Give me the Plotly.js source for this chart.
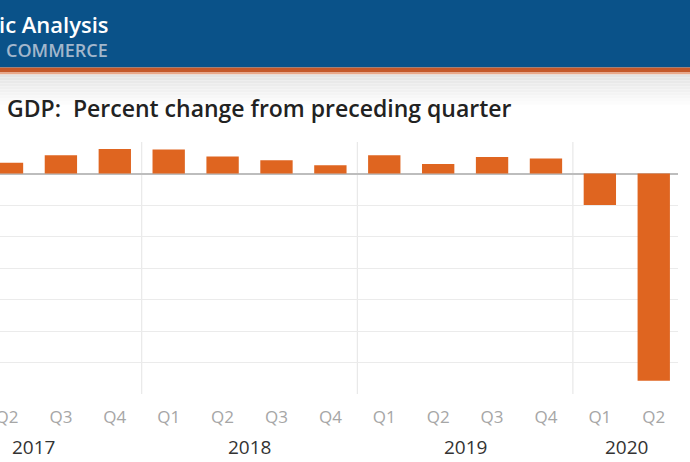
<!DOCTYPE html>
<html>
<head>
<meta charset="utf-8">
<script src="https://cdn.plot.ly/plotly-3.0.1.min.js"></script>
<style>html,body{margin:0;padding:0;background:#fff;overflow:hidden}#chart{width:690px;height:462px}</style>
</head>
<body>
<div id="chart"></div>
<script>
// Data (percent change from preceding quarter, annual rate)
const quarterLabels = ['Q1','Q2','Q3','Q4','Q1','Q2','Q3','Q4','Q1','Q2','Q3','Q4','Q1','Q2'];
const yearLabels = ['2017','2018','2019','2020'];
const quartersPerYear = [4, 4, 4, 2];
const gdpChange = [2.3, 1.7, 2.9, 3.9, 3.8, 2.7, 2.1, 1.3, 2.9, 1.5, 2.6, 2.4, -5.0, -32.9];
const titleText = 'GDP:  Percent change from preceding quarter';
const headerLine1 = 'ic Analysis';
const headerLine2 = 'COMMERCE';

const W = 690, H = 462;
const M = {l: 0, r: 12, t: 142, b: 68};
const plotH = H - M.t - M.b;
const plotW = W - M.l - M.r;
const py = p => (H - M.b - p) / plotH;   // page pixel y -> paper y
const px = p => (p - M.l) / plotW;       // page pixel x -> paper x

const xIdx = quarterLabels.map((_, i) => i);

// year group centres and dividers
const yearAnn = [];
const dividers = [];
let start = 0;
yearLabels.forEach((y, k) => {
  const n = quartersPerYear[k];
  yearAnn.push({
    xref: 'x', yref: 'paper', x: start + (n - 1) / 2, y: py(447),
    text: y, showarrow: false, xanchor: 'center', yanchor: 'middle',
    font: {family: 'Open Sans, sans-serif', size: 19, color: '#333333'}
  });
  if (k > 0) {
    dividers.push({type: 'line', xref: 'x', yref: 'y', x0: start - 0.5, x1: start - 0.5,
      y0: -35, y1: 5, line: {color: '#e4e4e4', width: 1}, layer: 'below'});
  }
  start += n;
});

const shapes = [
  {type: 'rect', xref: 'paper', yref: 'paper', x0: px(-5), x1: px(700), y0: py(67.5), y1: py(-5),
    fillcolor: '#0a5289', line: {width: 0}, layer: 'below'},
  {type: 'rect', xref: 'paper', yref: 'paper', x0: px(-5), x1: px(700), y0: py(72.5), y1: py(67.5),
    fillcolor: '#c4582a', line: {width: 0}, layer: 'below'},
  {type: 'rect', xref: 'paper', yref: 'paper', x0: px(-5), x1: px(700), y0: py(74.5), y1: py(72.5),
    fillcolor: '#e9a889', line: {width: 0}, layer: 'below'}
];
// soft grey fade below the orange stripe
const fade = ['#e3e3e3','#e6e6e6','#e9e9e9','#ececec','#efefef','#f1f1f1','#f4f4f4','#f7f7f7','#fafafa','#fcfcfc'];
fade.forEach((c, i) => {
  shapes.push({type: 'rect', xref: 'paper', yref: 'paper', x0: px(-5), x1: px(700),
    y0: py(74.5 + (i + 1) * 3), y1: py(74.5 + i * 3), fillcolor: c, line: {width: 0}, layer: 'below'});
});

const annotations = [
  {xref: 'paper', yref: 'paper', x: px(-2), y: py(24), xanchor: 'left', yanchor: 'middle',
    text: headerLine1, showarrow: false, borderpad: 0,
    font: {family: 'Open Sans, sans-serif', size: 22, color: '#ffffff', weight: 600}},
  {xref: 'paper', yref: 'paper', x: px(5), y: py(50), xanchor: 'left', yanchor: 'middle',
    text: headerLine2, showarrow: false, borderpad: 0,
    font: {family: 'Open Sans, sans-serif', size: 18, color: '#a3b7cc', weight: 600}},
  {xref: 'paper', yref: 'paper', x: px(5), y: py(108), xanchor: 'left', yanchor: 'middle',
    text: titleText, showarrow: false,
    font: {family: 'Open Sans, sans-serif', size: 23, color: '#222222', weight: 600}}
].concat(yearAnn);

const trace = {
  type: 'bar', x: xIdx, y: gdpChange,
  marker: {color: '#df6520', line: {width: 0}},
  hoverinfo: 'skip'
};

const layout = {
  width: W, height: H,
  margin: M,
  paper_bgcolor: '#ffffff', plot_bgcolor: '#ffffff',
  showlegend: false,
  bargap: 0.4,
  xaxis: {
    range: [0.87, 13.45], tickmode: 'array', tickvals: xIdx, ticktext: quarterLabels,
    showgrid: false, zeroline: false, showline: false, ticks: '',
    tickfont: {family: 'Open Sans, sans-serif', size: 17, color: '#a6a6a6'},
    ticklabelstandoff: 11, ticklabeloverflow: 'allow', fixedrange: true
  },
  yaxis: {
    range: [-35, 5], dtick: 5, showticklabels: false, ticks: '',
    showgrid: true, gridcolor: '#ebebeb', gridwidth: 1,
    zeroline: true, zerolinecolor: '#bdbdbd', zerolinewidth: 2,
    showline: false, fixedrange: true
  },
  shapes: shapes.concat(dividers),
  annotations: annotations
};

Plotly.newPlot('chart', [trace], layout, {displayModeBar: false, staticPlot: true});
</script>
</body>
</html>
